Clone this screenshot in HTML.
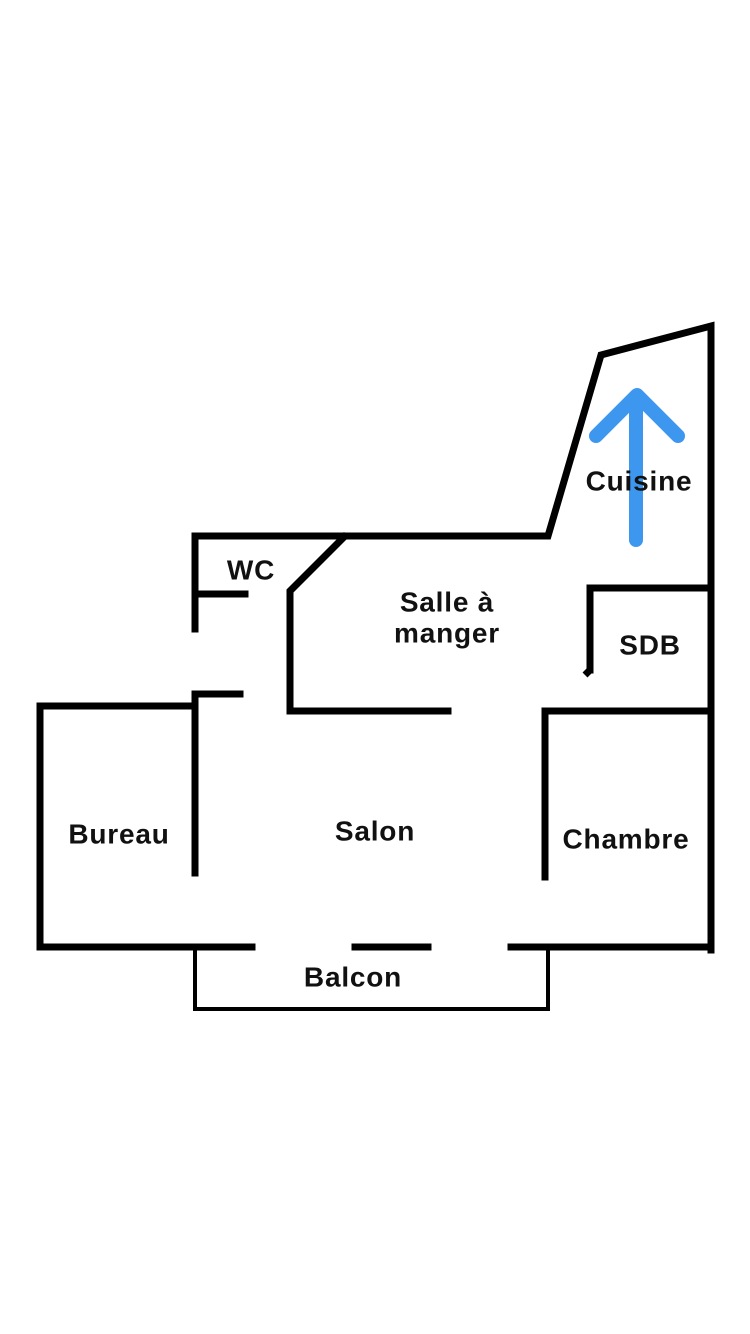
<!DOCTYPE html>
<html><head><meta charset="utf-8"><style>
html,body{margin:0;padding:0;background:#fff;}
svg{display:block}
text{font-family:"Liberation Sans","DejaVu Sans",sans-serif;font-weight:bold;font-size:28px;fill:#111;text-anchor:middle;dominant-baseline:middle;letter-spacing:0.8px}
</style></head><body>
<svg width="750" height="1334" viewBox="0 0 750 1334">
<rect width="750" height="1334" fill="#fff"/>
<g stroke="#000" stroke-width="7" fill="none" stroke-linecap="square" stroke-linejoin="miter">
<polyline points="711,950 711,326 601,355 548,536 195,536 195,629"/>
<line x1="195" y1="594" x2="245" y2="594"/>
<polyline points="344,537 290,591 290,711 448,711"/>
<polyline points="711,588 590,588 590,670"/>
<line x1="590" y1="670" x2="585" y2="675" stroke-linecap="butt"/>
<polyline points="711,711 545,711 545,877"/>
<polyline points="240,694 195,694 195,873"/>
<polyline points="195,706 40,706 40,947 252,947"/>
<line x1="355" y1="947" x2="428" y2="947"/>
<line x1="511" y1="947" x2="711" y2="947"/>
</g>
<polyline points="195,950 195,1009 548,1009 548,950" stroke="#000" stroke-width="4" fill="none"/>
<g stroke="#3d97ee" stroke-width="14" stroke-linecap="round" stroke-linejoin="round" fill="none">
<line x1="636" y1="540" x2="636" y2="397"/>
<polyline points="596,436 637,395 678,436"/>
</g>
<text x="251" y="572">WC</text>
<text x="447" y="604">Salle à</text>
<text x="447" y="635">manger</text>
<text x="639" y="483">Cuisine</text>
<text x="650" y="647">SDB</text>
<text x="119" y="836">Bureau</text>
<text x="375" y="833">Salon</text>
<text x="626" y="841">Chambre</text>
<text x="353" y="979">Balcon</text>
</svg>
</body></html>
